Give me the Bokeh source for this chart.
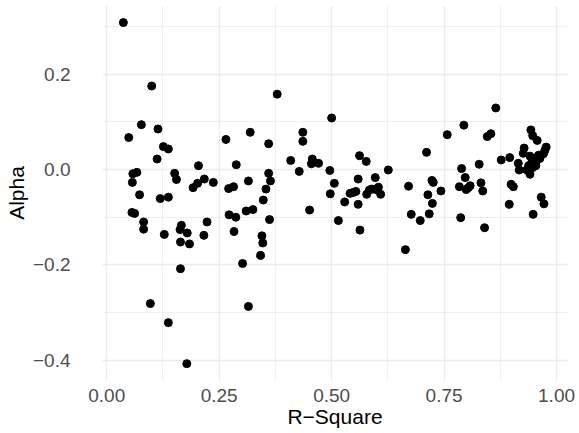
from bokeh.plotting import figure
from bokeh.models import Range1d, FixedTicker, CustomJSTickFormatter, ColumnDataSource
from bokeh.embed import file_html
from bokeh.resources import INLINE

r_square = [
    0.037, 0.100, 0.077, 0.049, 0.114, 0.126, 0.137, 0.112, 0.204, 0.265,
    0.319, 0.288, 0.058, 0.067, 0.057, 0.073, 0.151, 0.155, 0.192, 0.202,
    0.217, 0.237, 0.271, 0.282, 0.315, 0.119, 0.137, 0.056, 0.062, 0.082,
    0.082, 0.128, 0.166, 0.163, 0.179, 0.223, 0.216, 0.164, 0.184, 0.272,
    0.287, 0.310, 0.283, 0.164, 0.302, 0.097, 0.315, 0.137, 0.178,
    0.379, 0.500, 0.360, 0.436, 0.436, 0.409, 0.457, 0.455, 0.471, 0.428,
    0.360, 0.364, 0.354, 0.348, 0.325, 0.345, 0.362, 0.451, 0.496, 0.506,
    0.497, 0.515, 0.562, 0.577, 0.559, 0.597, 0.626, 0.529, 0.541, 0.548,
    0.554, 0.559, 0.578, 0.584, 0.589, 0.604, 0.609, 0.598, 0.563, 0.347,
    0.342, 0.664,
    0.865, 0.794, 0.757, 0.846, 0.854, 0.711, 0.789, 0.828, 0.877, 0.896,
    0.943, 0.947, 0.957, 0.928, 0.926, 0.915, 0.917, 0.671, 0.723, 0.726,
    0.743, 0.714, 0.724, 0.677, 0.697, 0.717, 0.787, 0.797, 0.784, 0.804,
    0.808, 0.799, 0.832, 0.836, 0.840, 0.899, 0.904, 0.895, 0.966, 0.972,
    0.948, 0.977, 0.974, 0.971, 0.934, 0.941, 0.941, 0.950, 0.956, 0.945,
    0.954, 0.963, 0.947, 0.938, 0.960,
]
alpha = [
    0.308, 0.175, 0.094, 0.067, 0.085, 0.048, 0.043, 0.022, 0.008, 0.063,
    0.078, 0.010, -0.009, -0.006, -0.027, -0.053, -0.008, -0.021, -0.038, -0.029,
    -0.020, -0.027, -0.040, -0.036, -0.024, -0.061, -0.058, -0.090, -0.092, -0.110,
    -0.125, -0.136, -0.117, -0.126, -0.133, -0.110, -0.138, -0.152, -0.156, -0.095,
    -0.100, -0.087, -0.130, -0.208, -0.197, -0.281, -0.287, -0.321, -0.407,
    0.158, 0.108, 0.054, 0.078, 0.059, 0.019, 0.022, 0.012, 0.013, -0.004,
    -0.008, -0.024, -0.041, -0.064, -0.084, -0.139, -0.105, -0.085, -0.002, -0.029,
    -0.051, -0.107, 0.029, 0.017, -0.020, -0.017, -0.001, -0.068, -0.050, -0.048,
    -0.046, -0.073, -0.052, -0.043, -0.041, -0.037, -0.052, -0.042, -0.127, -0.154,
    -0.180, -0.168,
    0.129, 0.093, 0.073, 0.069, 0.075, 0.036, 0.002, 0.011, 0.020, 0.025,
    0.083, 0.071, 0.061, 0.045, 0.034, 0.013, -0.001, -0.035, -0.023, -0.027,
    -0.045, -0.053, -0.071, -0.094, -0.107, -0.093, -0.101, -0.017, -0.036, -0.038,
    -0.034, -0.042, -0.028, -0.045, -0.122, -0.031, -0.036, -0.073, -0.058, -0.072,
    -0.094, 0.047, 0.040, 0.033, -0.001, -0.010, 0.028, 0.023, 0.019, 0.015,
    0.008, 0.023, 0.004, 0.008, 0.030,
]

x_ticks = [0.0, 0.25, 0.5, 0.75, 1.0]
x_minor = [0.125, 0.375, 0.625, 0.875]
y_ticks = [-0.4, -0.2, 0.0, 0.2]
y_minor = [-0.3, -0.1, 0.1, 0.3]
x_title = "R-Square"
y_title = "Alpha"

src = ColumnDataSource(dict(x=r_square, y=alpha))

p = figure(width=579, height=433,
           x_range=Range1d(-0.0094, 1.0244), y_range=Range1d(-0.4423, 0.3438),
           output_backend="svg", toolbar_location=None,
           min_border_left=102, min_border_right=12, min_border_top=5, min_border_bottom=53)
p.outline_line_color = None
p.background_fill_color = "white"
p.border_fill_color = "white"

p.xaxis.ticker = FixedTicker(ticks=x_ticks, minor_ticks=x_minor)
p.yaxis.ticker = FixedTicker(ticks=y_ticks, minor_ticks=y_minor)
p.xaxis.formatter = CustomJSTickFormatter(code="""
var t = Math.abs(tick) < 1e-9 ? 0 : tick;
return t.toFixed(2).replace('-', '\u2212');
""")
p.yaxis.formatter = CustomJSTickFormatter(code="""
var t = Math.abs(tick) < 1e-9 ? 0 : tick;
return t.toFixed(1).replace('-', '\u2212');
""")

for ax in (p.xaxis, p.yaxis):
    ax.axis_line_color = None
    ax.major_tick_line_color = None
    ax.minor_tick_line_color = None
    ax.major_label_text_font = "Liberation Sans"
    ax.major_label_text_font_size = "19px"
    ax.major_label_text_color = "#4D4D4D"
    ax.axis_label_text_font = "Liberation Sans"
    ax.axis_label_text_font_size = "21px"
    ax.axis_label_text_font_style = "normal"
    ax.axis_label_text_color = "black"
    ax.major_tick_out = 0
    ax.major_tick_in = 0

p.xaxis.axis_label = x_title.replace("-", "\u2212")
p.yaxis.axis_label = y_title
p.xaxis.major_label_standoff = 4
p.yaxis.major_label_standoff = 28
p.xaxis.axis_label_standoff = 0
p.yaxis.axis_label_standoff = 2

for g in (p.xgrid, p.ygrid):
    g.grid_line_color = "#EBEBEB"
    g.grid_line_width = 1.3
    g.minor_grid_line_color = "#EBEBEB"
    g.minor_grid_line_width = 0.8

p.scatter("x", "y", source=src, size=8, color="black")

open("out.html", "w").write(file_html(p, INLINE))
